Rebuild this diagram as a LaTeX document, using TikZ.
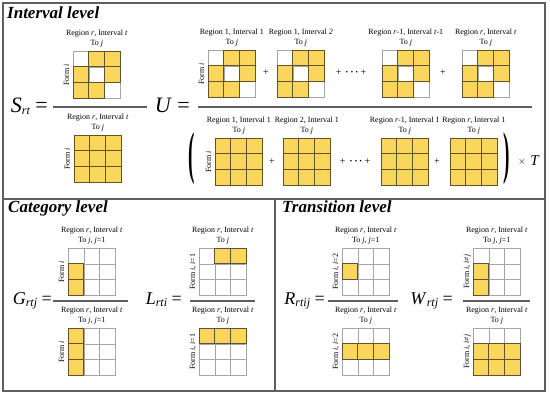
\documentclass[tikz,border=0pt]{standalone}
\usepackage{fontspec}
\setmainfont{Liberation Serif}
\usepackage{amsmath}
\usetikzlibrary{positioning, calc}

\definecolor{cellyellow}{RGB}{250,214,92}
\definecolor{celledge}{RGB}{95,85,45}
\definecolor{gridgray}{RGB}{165,165,165}
\definecolor{framegray}{RGB}{95,95,95}

\def\cellsz{15.667}
% 3x3 grid: name, top-left corner, filled cells (row/col)
\newcommand{\cellgrid}[3]{%
  \node[gridbox, anchor=north west] (#1) at (#2) {};
  \foreach \k in {1,2} {
    \draw[gridgray, line width=0.6pt] ($(#1.north west)!\k/3!(#1.north east)$) -- ($(#1.south west)!\k/3!(#1.south east)$);
    \draw[gridgray, line width=0.6pt] ($(#1.north west)!\k/3!(#1.south west)$) -- ($(#1.north east)!\k/3!(#1.south east)$);
  }
  \foreach \rw/\cl in {#3} {
    \filldraw[fill=cellyellow, draw=celledge, line width=0.6pt] ($(#1.north west)+({(\cl-1)*\cellsz},{(\rw-1)*\cellsz})$) rectangle ++(\cellsz,\cellsz);
  }
}
% labels above a grid: name, region text, to text
\newcommand{\gridlabels}[3]{%
  \node[lbl, above=2.5pt of #1] (#1-to) {#3};
  \node[lbl, above=2pt of #1-to] (#1-reg) {#2};
}
\newcommand{\subidx}[1]{\raisebox{-1.5pt}{\fontsize{12}{12}\selectfont\itshape #1}}

\begin{document}
\begin{tikzpicture}[x=1pt, y=-1pt,
    gridbox/.style={draw=gridgray, line width=0.6pt, inner sep=0pt, minimum size=47pt},
    lbl/.style={font=\fontsize{8}{8}\selectfont, inner sep=0.5pt, text height=5.6pt, text depth=1.8pt},
    formlbl/.style={lbl, rotate=90, anchor=south},
    formula/.style={font=\fontsize{22}{22}\selectfont, inner sep=0pt, anchor=base east},
    title/.style={font=\fontsize{17}{17}\selectfont\bfseries\itshape, inner sep=0pt, anchor=base west},
    plus/.style={font=\fontsize{10}{10}\selectfont, inner sep=0pt},
    bigpar/.style={inner sep=0pt, font=\fontsize{16}{16}\selectfont\bfseries},
    fracline/.style={draw=framegray, line width=1.3pt},
    frame/.style={draw=framegray, line width=1.2pt}]

    \useasboundingbox (0,0) rectangle (550,396);

    % Frames
    \draw[frame] (3,3) rectangle (545,391);
    \draw[frame] (3,199) -- (545,199);
    \draw[frame] (275,199) -- (275,391);

    % Block 1: interval level
    \node[title] (tint) at (7,19) {Interval level};
    \node[formula] (srt) at (48,113) {\textit{S}\subidx{rt} =};
    \draw[fracline] (53,107) -- (147,107);
    \cellgrid{snum}{73,51}{1/2,1/3,2/1,2/3,3/1,3/2}
    \gridlabels{snum}{Region \textit{r}, Interval \textit{t}}{To \textit{j}}
    \node[formlbl] (snum-form) at ([xshift=-1.5pt]snum.west) {Form \textit{i}};
    \cellgrid{sden}{74,135}{1/1,1/2,1/3,2/1,2/2,2/3,3/1,3/2,3/3}
    \gridlabels{sden}{Region \textit{r}, Interval \textit{t}}{To \textit{j}}
    \node[formlbl] (sden-form) at ([xshift=-1.5pt]sden.west) {Form \textit{i}};

    \node[formula, font=\fontsize{22}{22}\selectfont] (ueq) at (190,113) {\textit{U} =};
    \draw[fracline] (198,107) -- (532,107);
    % numerator of U
    \cellgrid{unum1}{208,50}{1/2,1/3,2/1,2/3,3/1,3/2}
    \gridlabels{unum1}{Region 1, Interval 1}{To \textit{j}}
    \node[formlbl] (unum1-form) at ([xshift=-1.5pt]unum1.west) {Form \textit{i}};
    \node[plus] (uplus1) at (266,73) {+};
    \cellgrid{unum2}{277,50}{1/2,1/3,2/1,2/3,3/1,3/2}
    \gridlabels{unum2}{Region 1, Interval \textit{2}}{To \textit{j}}
    \node[plus] (udots1) at (351,73) {+\hspace{4pt}{\bfseries\textperiodcentered\hspace{1.5pt}\textperiodcentered\hspace{1.5pt}\textperiodcentered}\hspace{2pt}+};
    \cellgrid{unum3}{382,50}{1/2,1/3,2/1,2/3,3/1,3/2}
    \gridlabels{unum3}{Region \textit{r}-1, Interval \textit{t}-1}{To \textit{j}}
    \node[plus] (uplus2) at (443,73) {+};
    \cellgrid{unum4}{462,50}{1/2,1/3,2/1,2/3,3/1,3/2}
    \gridlabels{unum4}{Region \textit{r}, Interval \textit{t}}{To \textit{j}}
    % denominator of U
    \node[bigpar] (lpar) at (192,158.5) {\scalebox{1.2}[3.6]{(}};
    \cellgrid{uden1}{215,138}{1/1,1/2,1/3,2/1,2/2,2/3,3/1,3/2,3/3}
    \gridlabels{uden1}{Region 1, Interval 1}{To \textit{j}}
    \node[formlbl] (uden1-form) at ([xshift=-1.5pt]uden1.west) {Form \textit{i}};
    \node[plus] (uplus3) at (272,162) {+};
    \cellgrid{uden2}{283,138}{1/1,1/2,1/3,2/1,2/2,2/3,3/1,3/2,3/3}
    \gridlabels{uden2}{Region 2, Interval 1}{To \textit{j}}
    \node[plus] (udots2) at (355,162) {+\hspace{4pt}{\bfseries\textperiodcentered\hspace{1.5pt}\textperiodcentered\hspace{1.5pt}\textperiodcentered}\hspace{2pt}+};
    \cellgrid{uden3}{381,138}{1/1,1/2,1/3,2/1,2/2,2/3,3/1,3/2,3/3}
    \gridlabels{uden3}{Region \textit{r}-1, Interval 1}{To \textit{j}}
    \node[plus] (uplus4) at (437,162) {+};
    \cellgrid{uden4}{450,138}{1/1,1/2,1/3,2/1,2/2,2/3,3/1,3/2,3/3}
    \gridlabels{uden4}{Region \textit{r}, Interval 1}{To \textit{j}}
    \node[bigpar] (rpar) at (507,158.5) {\scalebox{1.2}[3.6]{)}};
    \node[plus] (times) at (522,162) {$\times$};
    \node[inner sep=0pt, font=\fontsize{15}{15}\selectfont] (tfac) at (535,161) {\textit{T}};

    % Block 2: category level
    \node[title] (tcat) at (8,212) {Category level};
    \node[formula, font=\fontsize{18}{18}\selectfont] (geq) at (52,305) {\textit{G}\subidx{rtj} =};
    \draw[fracline] (53,301) -- (128,301);
    \cellgrid{gnum}{68,248}{2/1,3/1}
    \gridlabels{gnum}{Region \textit{r}, Interval \textit{t}}{To \textit{j}, \textit{j}=1}
    \node[formlbl] (gnum-form) at ([xshift=-1.5pt]gnum.west) {Form \textit{i}};
    \cellgrid{gden}{68,328}{1/1,2/1,3/1}
    \gridlabels{gden}{Region \textit{r}, Interval \textit{t}}{To \textit{j}, \textit{j}=1}
    \node[formlbl] (gden-form) at ([xshift=-1.5pt]gden.west) {Form \textit{i}};

    \node[formula, font=\fontsize{18}{18}\selectfont] (leq) at (182,305) {\textit{L}\subidx{rti} =};
    \draw[fracline] (190,301) -- (255,301);
    \cellgrid{lnum}{199,248}{1/2,1/3}
    \gridlabels{lnum}{Region \textit{r}, Interval \textit{t}}{To \textit{j}}
    \node[formlbl] (lnum-form) at ([xshift=-1.5pt]lnum.west) {Form \textit{i}, \textit{i}=1};
    \cellgrid{lden}{199,328}{1/1,1/2,1/3}
    \gridlabels{lden}{Region \textit{r}, Interval \textit{t}}{To \textit{j}}
    \node[formlbl] (lden-form) at ([xshift=-1.5pt]lden.west) {Form \textit{i}, \textit{i}=1};

    % Block 3: transition level
    \node[title] (ttra) at (282,212) {Transition level};
    \node[formula, font=\fontsize{18}{18}\selectfont] (req) at (325,305) {\textit{R}\subidx{rtij} =};
    \draw[fracline] (328,301) -- (398,301);
    \cellgrid{rnum}{342,248}{2/1}
    \gridlabels{rnum}{Region \textit{r}, Interval \textit{t}}{To \textit{j}, \textit{j}=1}
    \node[formlbl] (rnum-form) at ([xshift=-1.5pt]rnum.west) {Form \textit{i}, \textit{i}=2};
    \cellgrid{rden}{342,328}{2/1,2/2,2/3}
    \gridlabels{rden}{Region \textit{r}, Interval \textit{t}}{To \textit{j}}
    \node[formlbl] (rden-form) at ([xshift=-1.5pt]rden.west) {Form \textit{i}, \textit{i}=2};

    \node[formula, font=\fontsize{18}{18}\selectfont] (weq) at (453,305) {\textit{W}\subidx{rtj} =};
    \draw[fracline] (463,301) -- (530,301);
    \cellgrid{wnum}{473,248}{2/1,3/1}
    \gridlabels{wnum}{Region \textit{r}, Interval \textit{t}}{To \textit{j}, \textit{j}=1}
    \node[formlbl] (wnum-form) at ([xshift=-1.5pt]wnum.west) {Form \textit{i}, \textit{i}≠\textit{j}};
    \cellgrid{wden}{473,328}{2/1,2/2,2/3,3/1,3/2,3/3}
    \gridlabels{wden}{Region \textit{r}, Interval \textit{t}}{To \textit{j}}
    \node[formlbl] (wden-form) at ([xshift=-1.5pt]wden.west) {Form \textit{i}, \textit{i}≠\textit{j}};

\end{tikzpicture}
\end{document}
